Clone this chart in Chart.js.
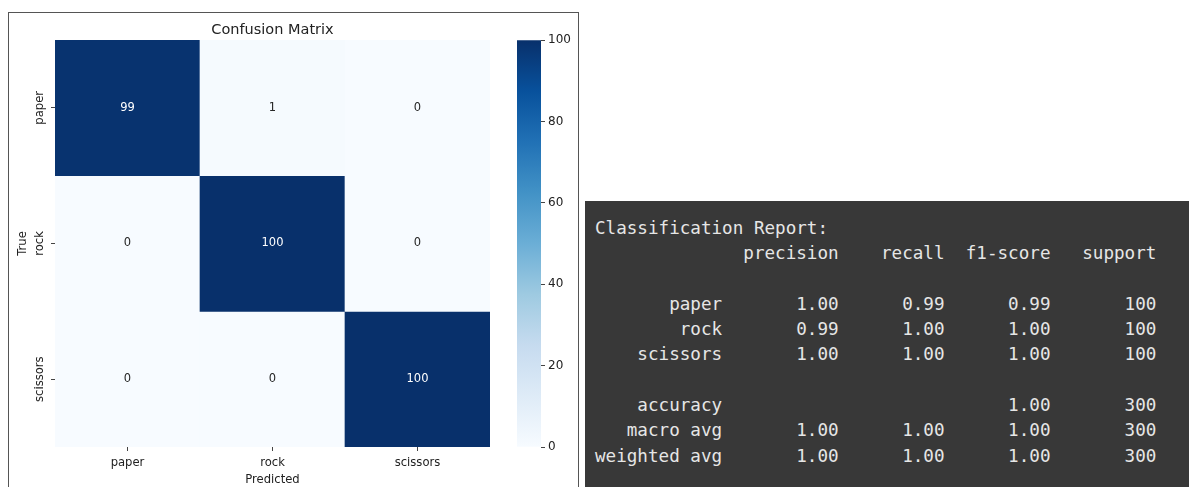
<!DOCTYPE html>
<html>
<head>
<meta charset="utf-8">
<script src="https://cdn.jsdelivr.net/npm/chart.js@4.4.1/dist/chart.umd.min.js"></script>
<style>
  body { margin: 0; width: 1189px; height: 487px; background: #fff; overflow: hidden; position: relative; }
  #frame { position: absolute; left: 8px; top: 12px; width: 569px; height: 490px; border: 1px solid #555; }
  #cm { position: absolute; left: 0; top: 0; }
  #cb { position: absolute; left: 500px; top: 30px; }
  #report { position: absolute; left: 585px; top: 201px; width: 604px; height: 286px; background: #383838; }
  #report pre { margin: 0; padding: 15px 0 0 10px; font-family: "DejaVu Sans Mono", "Liberation Mono", monospace;
                font-size: 17.6px; line-height: 25.3px; color: #e6e6e6; }
</style>
</head>
<body>
<div id="frame"></div>
<canvas id="cm" width="580" height="487"></canvas>
<canvas id="cb" width="76" height="430"></canvas>
<div id="report"><pre id="reportText"></pre></div>

<script>
// Class names (predicted on x, true on y)
const predLabels = ['paper', 'rock', 'scissors'];
const trueLabels = ['paper', 'rock', 'scissors'];

// Confusion matrix rows (one per true label)
const paperRow = [99, 1, 0];
const rockRow = [0, 100, 0];
const scissorsRow = [0, 0, 100];
const cmRows = [paperRow, rockRow, scissorsRow];

// Colorbar range
const cbMin = 0;
const cbMax = 100;
const cbStep = 20;

// Classification report values
const precision = [1.00, 0.99, 1.00];
const recall = [0.99, 1.00, 1.00];
const f1Score = [0.99, 1.00, 1.00];
const support = [100, 100, 100];
const accuracy = 1.00;
const macroAvg = [1.00, 1.00, 1.00];
const weightedAvg = [1.00, 1.00, 1.00];
const totalSupport = 300;

// matplotlib "Blues" colormap stops
const blueStops = ['#f7fbff', '#deebf7', '#c6dbef', '#9ecae1', '#6baed6', '#4292c6', '#2171b5', '#08519c', '#08306b'];

function hexToRgb(h) {
    return [1, 3, 5].map(i => parseInt(h.substr(i, 2), 16));
}

// Interpolate the colormap for t in [0, 1]
function blues(t) {
    t = Math.max(0, Math.min(1, t));
    const p = t * (blueStops.length - 1);
    const i = Math.min(Math.floor(p), blueStops.length - 2);
    const f = p - i;
    const a = hexToRgb(blueStops[i]), b = hexToRgb(blueStops[i + 1]);
    return 'rgb(' + a.map((v, k) => Math.round(v + (b[k] - v) * f)).join(',') + ')';
}

const textColor = '#222';
const labelFont = { family: 'DejaVu Sans', size: 11.6 };

// Write the count in the middle of every cell
const cellText = {
    id: 'cellText',
    afterDatasetsDraw(chart) {
        const ctx = chart.ctx;
        chart.data.datasets.forEach((ds, di) => {
            chart.getDatasetMeta(di).data.forEach((bar, j) => {
                const v = ds.counts[j];
                ctx.save();
                ctx.font = '11.5px "DejaVu Sans"';
                ctx.fillStyle = v > (cbMax - cbMin) * 0.6 ? '#ffffff' : '#262626';
                ctx.textAlign = 'center';
                ctx.textBaseline = 'middle';
                ctx.fillText(String(v), bar.x, (bar.y + bar.base) / 2);
                ctx.restore();
            });
        });
    }
};

// Rotated row labels on the left axis
const rowLabels = {
    id: 'rowLabels',
    afterDraw(chart) {
        const s = chart.scales.y;
        const ctx = chart.ctx;
        s.ticks.forEach(t => {
            const y = s.getPixelForValue(t.value);
            ctx.save();
            ctx.translate(s.right - 15, y);
            ctx.rotate(-Math.PI / 2);
            ctx.font = '11.6px "DejaVu Sans"';
            ctx.fillStyle = textColor;
            ctx.textAlign = 'center';
            ctx.textBaseline = 'middle';
            ctx.fillText(trueLabels[Math.floor(t.value)], 0, 0);
            ctx.restore();
        });
    }
};

// Heatmap: each true-label row is a dataset of floating bars spanning [row, row + 1]
new Chart(document.getElementById('cm').getContext('2d'), {
    type: 'bar',
    data: {
        labels: predLabels,
        datasets: cmRows.map((row, r) => ({
            label: trueLabels[r],
            counts: row,
            data: row.map(() => [r, r + 1]),
            backgroundColor: row.map(v => blues((v - cbMin) / (cbMax - cbMin))),
            borderWidth: 0,
            barPercentage: 1,
            categoryPercentage: 1,
            grouped: false
        }))
    },
    options: {
        responsive: false,
        animation: false,
        layout: { padding: { left: 16, right: 90, top: 0, bottom: 0 } },
        plugins: {
            legend: { display: false },
            tooltip: { enabled: false },
            title: {
                display: true,
                text: 'Confusion Matrix',
                fullSize: false,
                color: textColor,
                font: { family: 'DejaVu Sans', size: 14.5, weight: 'normal' },
                padding: { top: 22, bottom: 0.6 }
            }
        },
        scales: {
            x: {
                type: 'category',
                grid: { offset: false, drawOnChartArea: false, tickLength: 4, color: '#444' },
                border: { display: false },
                ticks: { font: labelFont, color: textColor, padding: 5 },
                title: { display: true, text: 'Predicted', font: labelFont, color: textColor, padding: { top: 0, bottom: 0 } },
                afterFit: s => { s.height = 40; }
            },
            y: {
                type: 'linear',
                min: 0,
                max: trueLabels.length,
                reverse: true,
                afterBuildTicks: s => { s.ticks = trueLabels.map((_, i) => ({ value: i + 0.5 })); },
                ticks: { display: false },
                grid: { drawOnChartArea: false, tickLength: 4, color: '#444' },
                border: { display: false },
                title: { display: true, text: 'True', font: labelFont, color: textColor, padding: { top: 0, bottom: 0 } },
                afterFit: s => { s.width = 39; }
            }
        }
    },
    plugins: [cellText, rowLabels]
});

// Colorbar: a single floating bar filled with the colormap gradient
new Chart(document.getElementById('cb').getContext('2d'), {
    type: 'bar',
    data: {
        labels: [''],
        datasets: [{
            data: [[cbMin, cbMax]],
            backgroundColor: c => {
                const a = c.chart.chartArea;
                if (!a) return blueStops[0];
                const g = c.chart.ctx.createLinearGradient(0, a.bottom, 0, a.top);
                blueStops.forEach((col, i) => g.addColorStop(i / (blueStops.length - 1), col));
                return g;
            },
            borderWidth: 0,
            barPercentage: 1,
            categoryPercentage: 1
        }]
    },
    options: {
        responsive: false,
        animation: false,
        layout: { padding: { left: 17, right: 0, top: 10, bottom: 13 } },
        plugins: { legend: { display: false }, tooltip: { enabled: false } },
        scales: {
            x: { display: false },
            y: {
                position: 'right',
                min: cbMin,
                max: cbMax,
                ticks: { stepSize: cbStep, font: { family: 'DejaVu Sans', size: 12 }, color: textColor, padding: 3 },
                grid: { drawOnChartArea: false, tickLength: 4, color: '#444' },
                border: { display: false },
                afterFit: s => { s.width = 35; }
            }
        }
    }
});

// Classification report text, laid out like sklearn's
const w = 12;
const num = v => v.toFixed(2).padStart(9);
const lines = [];
lines.push('Classification Report:');
lines.push(''.padStart(w) + ' ' + ['precision', 'recall', 'f1-score', 'support'].map(h => ' ' + h.padStart(9)).join(''));
lines.push('');
predLabels.forEach((name, i) => {
    lines.push(name.padStart(w) + ' ' + ' ' + num(precision[i]) + ' ' + num(recall[i]) + ' ' + num(f1Score[i]) + ' ' + String(support[i]).padStart(9));
});
lines.push('');
lines.push('accuracy'.padStart(w) + ' ' + ' ' + ''.padStart(9) + ' ' + ''.padStart(9) + ' ' + num(accuracy) + ' ' + String(totalSupport).padStart(9));
lines.push('macro avg'.padStart(w) + ' ' + macroAvg.map(v => ' ' + num(v)).join('') + ' ' + String(totalSupport).padStart(9));
lines.push('weighted avg'.padStart(w) + ' ' + weightedAvg.map(v => ' ' + num(v)).join('') + ' ' + String(totalSupport).padStart(9));
document.getElementById('reportText').textContent = lines.join('\n');
</script>
</body>
</html>
